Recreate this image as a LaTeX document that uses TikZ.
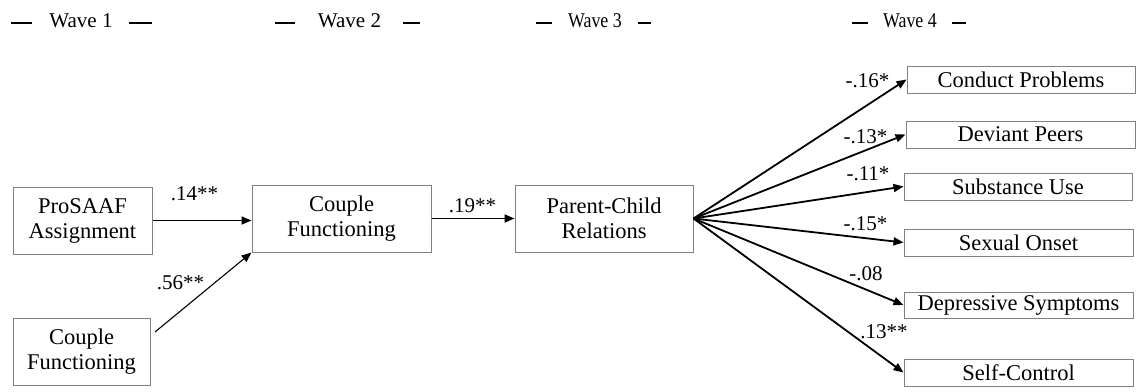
\documentclass[tikz,border=0pt]{standalone}
\usepackage{fontspec}
\setmainfont{Liberation Serif}
\usepackage{graphicx}
\usetikzlibrary{arrows.meta}
\definecolor{boxgray}{RGB}{128,128,128}
\begin{document}
\begin{tikzpicture}[x=1pt,y=-1pt,
  every node/.style={font=\fontsize{21}{25}\selectfont, inner sep=0pt},
  box/.style={draw=boxgray, line width=1pt, align=center, font=\fontsize{22.5}{25}\selectfont},
  bigbox/.style={box, minimum height=67pt},
  smallbox/.style={box, minimum height=27pt, minimum width=229pt},
  arr/.style={-{Triangle[length=10pt,width=8pt]}, line width=1.8pt},
  thinarr/.style={-{Triangle[length=10pt,width=8pt]}, line width=1.1pt},
  lbl/.style={anchor=base},
  wave/.style={anchor=base},
  wdash/.style={line width=1.2pt}]
\useasboundingbox (0,0) rectangle (1139,391);

% wave headers
\node[wave] (w1) at (81,27) {Wave 1};
\node[wave] (w2) at (349.5,27) {Wave 2};
\node[wave] (w3) at (595,27) {\scalebox{0.85}[1]{Wave 3}};
\node[wave] (w4) at (910,27) {\scalebox{0.85}[1]{Wave 4}};
\draw[wdash] (11,23) -- (32,23);  \draw[wdash] (129,23) -- (152,23);
\draw[wdash] (275,23) -- (295,23); \draw[wdash] (403,23) -- (420,23);
\draw[wdash] (536,23) -- (552,23); \draw[wdash] (638,23) -- (651,23);
\draw[wdash] (852,23) -- (868,23); \draw[wdash] (952,23) -- (966,23);

% boxes
\node[bigbox, minimum width=139pt] (pro) at (82.5,220.5) {ProSAAF\\Assignment};
\node[bigbox, minimum width=137pt] (cf1) at (81.5,351.5) {Couple\\Functioning};
\node[bigbox, minimum width=179pt] (cf2) at (341.5,218.5) {Couple\\Functioning};
\node[bigbox, minimum width=178pt] (pcr) at (604,218.5) {Parent-Child\\Relations};

\node[smallbox, minimum width=228pt] (cp) at (1021,79.5) {Conduct Problems};
\node[smallbox] (dp) at (1020.5,134.5) {Deviant Peers};
\node[smallbox, minimum width=228pt] (su) at (1018,186.5) {Substance Use};
\node[smallbox] (so) at (1018.5,242.5) {Sexual Onset};
\node[smallbox, minimum height=26pt] (ds) at (1018.5,305) {Depressive Symptoms};
\node[smallbox] (sc) at (1018.5,372.5) {Self-Control};

% connectors
\coordinate (cf1out) at (155,332);
\draw[arr] (pro.east) -- (pro.east -| cf2.west);
\draw[thinarr] (cf1out) -- (cf2.south west);
\draw[arr] (cf2.east) -- (pcr.west);
\foreach \t in {cp,dp,su,so,ds,sc}{
  \draw[arr] (pcr.east) -- (\t.west);
}

% labels
\node[lbl] (l1) at (194.5,200) {.14**};
\node[lbl] (l2) at (180.5,289) {.56**};
\node[lbl] (l3) at (472.5,212) {.19**};
\node[lbl] (l4) at (867.5,87) {-.16*};
\node[lbl] (l5) at (865.5,143) {-.13*};
\node[lbl] (l6) at (868,180) {-.11*};
\node[lbl] (l7) at (865.5,230) {-.15*};
\node[lbl] (l8) at (866,280) {-.08};
\node[lbl] (l9) at (884,338) {.13**};
\end{tikzpicture}
\end{document}
